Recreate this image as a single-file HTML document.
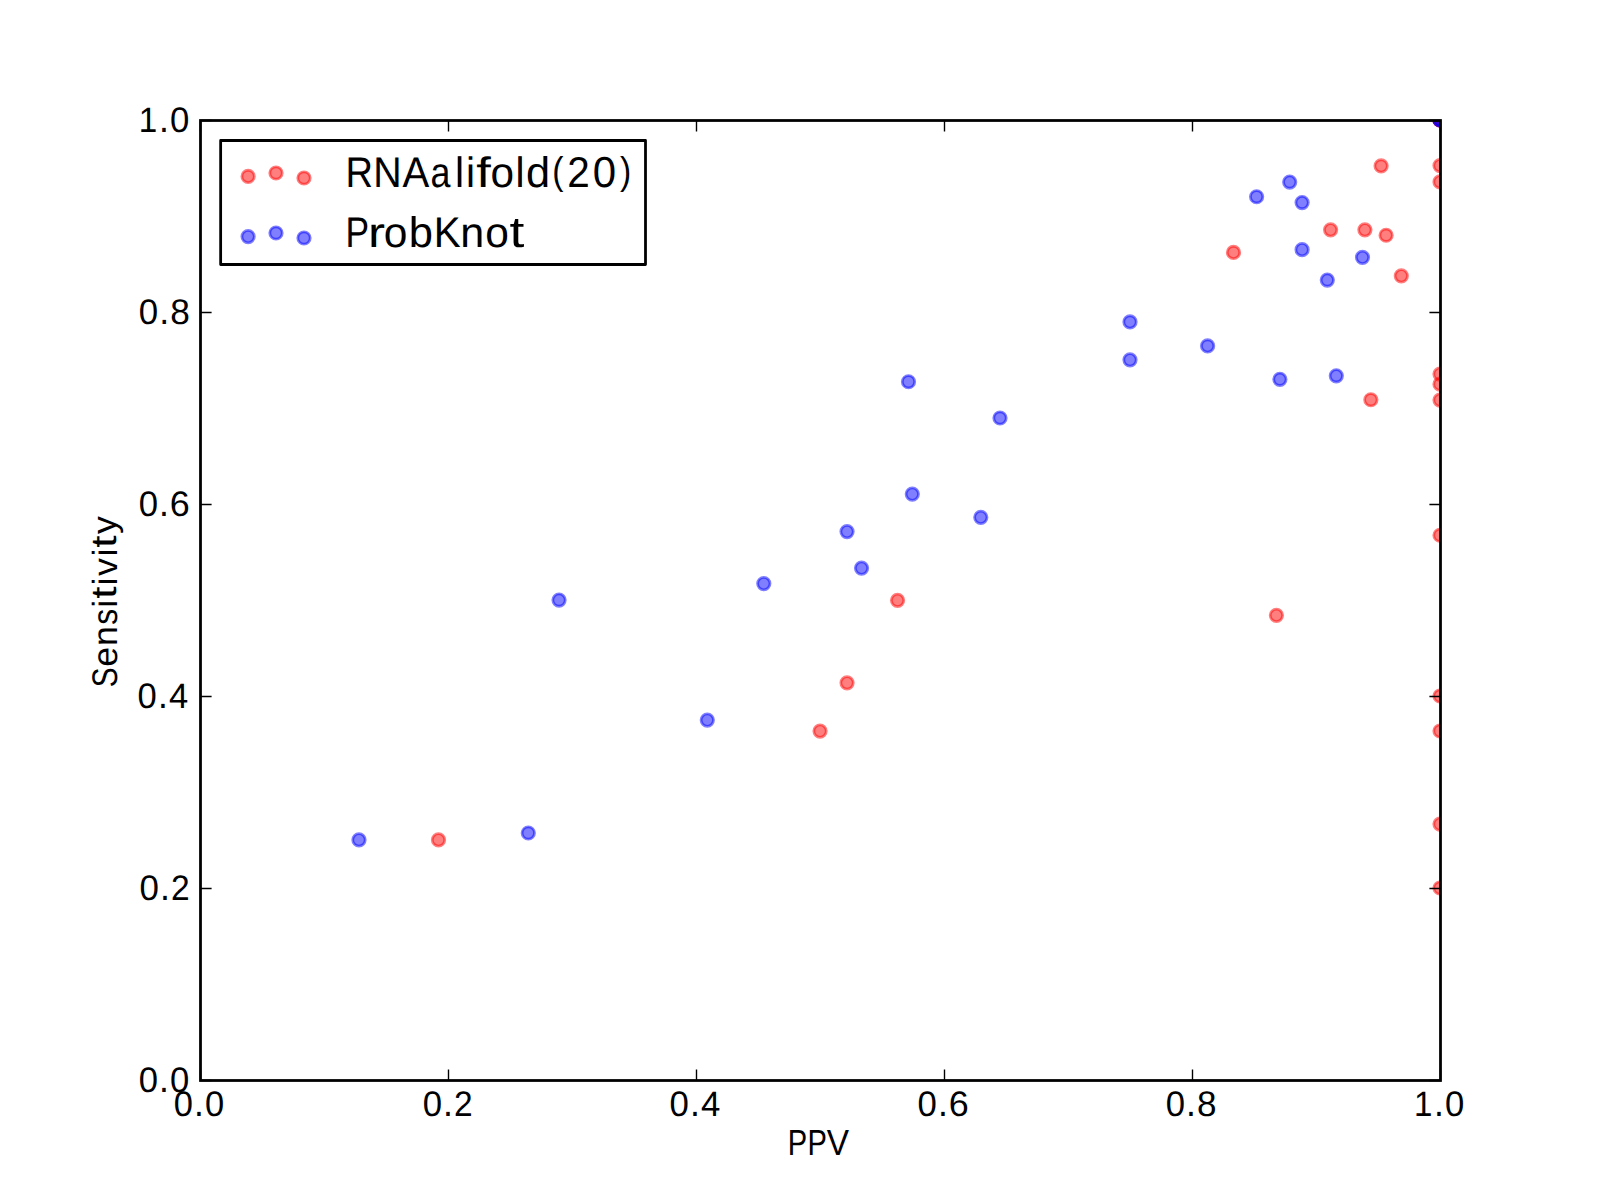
<!DOCTYPE html>
<html><head><meta charset="utf-8"><title>PPV vs Sensitivity</title><style>
html,body{margin:0;padding:0;background:#fff;width:1600px;height:1200px;overflow:hidden}
svg{display:block}
text{font-family:"Liberation Sans",sans-serif;font-size:50px;fill:#000;text-rendering:geometricPrecision}
</style></head><body>
<svg width="1600" height="1200" viewBox="0 0 1600 1200">
<defs><clipPath id="ax"><rect x="200.5" y="120.5" width="1240.0" height="960.0"/></clipPath></defs>
<rect x="0" y="0" width="1600" height="1200" fill="#fff"/>
<g clip-path="url(#ax)" fill="#ff0000" fill-opacity="0.5" stroke="#ff0000" stroke-opacity="0.5" stroke-width="2.78"><circle cx="438.5" cy="839.9" r="6.21"/><circle cx="820.05" cy="731.1" r="6.21"/><circle cx="847.05" cy="682.85" r="6.21"/><circle cx="897.55" cy="600.35" r="6.21"/><circle cx="1276.4" cy="615.35" r="6.21"/><circle cx="1233.5" cy="252.45" r="6.21"/><circle cx="1330.6" cy="229.85" r="6.21"/><circle cx="1364.9" cy="229.85" r="6.21"/><circle cx="1386.1" cy="235.25" r="6.21"/><circle cx="1401.3" cy="275.85" r="6.21"/><circle cx="1381.1" cy="165.95" r="6.21"/><circle cx="1370.85" cy="399.75" r="6.21"/><circle cx="1440" cy="165.6" r="6.21"/><circle cx="1440" cy="181.9" r="6.21"/><circle cx="1440" cy="374.1" r="6.21"/><circle cx="1440" cy="384.15" r="6.21"/><circle cx="1440" cy="400.1" r="6.21"/><circle cx="1440" cy="535.25" r="6.21"/><circle cx="1440" cy="696" r="6.21"/><circle cx="1440" cy="731" r="6.21"/><circle cx="1440" cy="824.1" r="6.21"/><circle cx="1440" cy="888" r="6.21"/><circle cx="1440" cy="120" r="6.21"/><circle cx="1440" cy="120" r="6.21"/><circle cx="1440" cy="120" r="6.21"/></g>
<g clip-path="url(#ax)" fill="#0000ff" fill-opacity="0.5" stroke="#0000ff" stroke-opacity="0.5" stroke-width="2.78"><circle cx="358.98" cy="839.9" r="6.21"/><circle cx="528.3" cy="833" r="6.21"/><circle cx="559.05" cy="600.05" r="6.21"/><circle cx="707.3" cy="720.1" r="6.21"/><circle cx="763.8" cy="583.6" r="6.21"/><circle cx="847.05" cy="531.6" r="6.21"/><circle cx="861.55" cy="568.1" r="6.21"/><circle cx="908.5" cy="381.75" r="6.21"/><circle cx="912.3" cy="494.1" r="6.21"/><circle cx="980.8" cy="517.35" r="6.21"/><circle cx="1000" cy="418" r="6.21"/><circle cx="1130.0" cy="321.95" r="6.21"/><circle cx="1130.0" cy="359.85" r="6.21"/><circle cx="1207.6" cy="345.95" r="6.21"/><circle cx="1256.6" cy="196.75" r="6.21"/><circle cx="1289.7" cy="182.05" r="6.21"/><circle cx="1302.1" cy="202.55" r="6.21"/><circle cx="1302.1" cy="249.65" r="6.21"/><circle cx="1362.5" cy="257.35" r="6.21"/><circle cx="1327.3" cy="280.05" r="6.21"/><circle cx="1279.9" cy="379.3" r="6.21"/><circle cx="1336.3" cy="375.8" r="6.21"/><circle cx="1440" cy="120" r="6.21"/><circle cx="1440" cy="120" r="6.21"/></g>
<path d="M200.5 1080.5V1069.4M200.5 120.5V131.6M200.5 1080.5H211.6M1440.5 1080.5H1429.4M448.5 1080.5V1069.4M448.5 120.5V131.6M200.5 888.5H211.6M1440.5 888.5H1429.4M696.5 1080.5V1069.4M696.5 120.5V131.6M200.5 696.5H211.6M1440.5 696.5H1429.4M944.5 1080.5V1069.4M944.5 120.5V131.6M200.5 504.5H211.6M1440.5 504.5H1429.4M1192.5 1080.5V1069.4M1192.5 120.5V131.6M200.5 312.5H211.6M1440.5 312.5H1429.4M1440.5 1080.5V1069.4M1440.5 120.5V131.6M200.5 120.5H211.6M1440.5 120.5H1429.4" stroke="#000" stroke-width="1.39" fill="none"/>
<rect x="200.5" y="120.5" width="1240.0" height="960.0" fill="none" stroke="#000" stroke-width="2.78"/>
<text transform="matrix(0.6897 0 0 0.7124 173.85 1115.72)">0</text><text transform="matrix(0.7080 0 0 0.7734 194.12 1115.60)">.</text><text transform="matrix(0.6897 0 0 0.7124 205.07 1115.72)">0</text>
<text transform="matrix(0.6926 0 0 0.7124 138.71 1091.92)">0</text><text transform="matrix(0.7110 0 0 0.7734 159.06 1091.80)">.</text><text transform="matrix(0.6926 0 0 0.7124 170.05 1091.92)">0</text>
<text transform="matrix(0.6957 0 0 0.7124 422.64 1115.72)">0</text><text transform="matrix(0.7141 0 0 0.7734 443.09 1115.60)">.</text><text transform="matrix(0.6706 0 0 0.7088 454.04 1115.60)">2</text>
<text transform="matrix(0.6972 0 0 0.7124 139.54 899.92)">0</text><text transform="matrix(0.7156 0 0 0.7734 160.03 899.80)">.</text><text transform="matrix(0.6720 0 0 0.7088 171.00 899.80)">2</text>
<text transform="matrix(0.6950 0 0 0.7124 669.54 1115.72)">0</text><text transform="matrix(0.7134 0 0 0.7734 689.97 1115.60)">.</text><text transform="matrix(0.6951 0 0 0.7066 700.99 1115.60)">4</text>
<text transform="matrix(0.6911 0 0 0.7124 137.62 707.92)">0</text><text transform="matrix(0.7094 0 0 0.7734 157.93 707.80)">.</text><text transform="matrix(0.6912 0 0 0.7066 168.89 707.80)">4</text>
<text transform="matrix(0.6943 0 0 0.7124 917.61 1115.72)">0</text><text transform="matrix(0.7127 0 0 0.7734 938.02 1115.60)">.</text><text transform="matrix(0.7186 0 0 0.7124 948.70 1115.72)">6</text>
<text transform="matrix(0.6945 0 0 0.7124 138.70 515.92)">0</text><text transform="matrix(0.7129 0 0 0.7734 159.11 515.80)">.</text><text transform="matrix(0.7188 0 0 0.7124 169.79 515.92)">6</text>
<text transform="matrix(0.6936 0 0 0.7124 1165.65 1115.72)">0</text><text transform="matrix(0.7119 0 0 0.7734 1186.03 1115.60)">.</text><text transform="matrix(0.7011 0 0 0.7124 1196.93 1115.72)">8</text>
<text transform="matrix(0.6970 0 0 0.7124 138.70 323.92)">0</text><text transform="matrix(0.7155 0 0 0.7734 159.18 323.80)">.</text><text transform="matrix(0.7046 0 0 0.7124 170.14 323.92)">8</text>
<text transform="matrix(0.6621 0 0 0.7066 1413.88 1115.60)">1</text><text transform="matrix(0.7116 0 0 0.7734 1433.98 1115.60)">.</text><text transform="matrix(0.6933 0 0 0.7124 1444.98 1115.72)">0</text>
<text transform="matrix(0.6636 0 0 0.7066 138.87 131.80)">1</text><text transform="matrix(0.7132 0 0 0.7734 159.01 131.80)">.</text><text transform="matrix(0.6948 0 0 0.7124 170.04 131.92)">0</text>
<text transform="matrix(0.5821 0 0 0.7248 787.71 1154.75)">P</text><text transform="matrix(0.5821 0 0 0.7248 807.56 1154.75)">P</text><text transform="matrix(0.6680 0 0 0.7248 826.67 1154.75)">V</text>
<g transform="translate(116.6 686) rotate(-90)"><text transform="matrix(0.5922 0 0 0.7124 -1.34 0.12)">S</text><text transform="matrix(0.7176 0 0 0.6989 19.20 0.13)">e</text><text transform="matrix(0.7163 0 0 0.6941 39.97 0.00)">n</text><text transform="matrix(0.6368 0 0 0.7008 61.30 0.13)">s</text><text transform="matrix(0.6791 0 0 0.6992 78.55 0.00)">i</text><text transform="matrix(0.8879 0 0 0.7156 87.14 -0.28)">t</text><text transform="matrix(0.6791 0 0 0.6992 100.80 0.00)">i</text><text transform="matrix(0.7170 0 0 0.6902 110.04 0.00)">v</text><text transform="matrix(0.6791 0 0 0.6992 129.69 0.00)">i</text><text transform="matrix(0.8879 0 0 0.7156 138.28 -0.28)">t</text><text transform="matrix(0.7134 0 0 0.6841 151.98 -0.16)">y</text></g>
<rect x="220.65" y="140.5" width="424.85" height="124" fill="#fff" stroke="#000" stroke-width="2.78" stroke-linejoin="round"/>
<g fill="#ff0000" fill-opacity="0.5" stroke="#ff0000" stroke-opacity="0.5" stroke-width="2.78"><circle cx="248.1" cy="176.45" r="6.21"/><circle cx="276" cy="173" r="6.21"/><circle cx="304" cy="178" r="6.21"/></g>
<g fill="#0000ff" fill-opacity="0.5" stroke="#0000ff" stroke-opacity="0.5" stroke-width="2.78"><circle cx="248.1" cy="236.6" r="6.21"/><circle cx="276" cy="233" r="6.21"/><circle cx="304" cy="238" r="6.21"/></g>
<text transform="matrix(0.7621 0 0 0.8594 345.62 186.90)">R</text><text transform="matrix(0.7871 0 0 0.8594 373.20 186.90)">N</text><text transform="matrix(0.8027 0 0 0.8594 402.56 186.90)">A</text><text transform="matrix(0.7165 0 0 0.8500 430.45 187.06)">a</text><text transform="matrix(0.8145 0 0 0.8504 455.00 186.90)">l</text><text transform="matrix(0.8145 0 0 0.8504 466.09 186.90)">i</text><text transform="matrix(1.0463 0 0 0.8515 476.31 186.90)">f</text><text transform="matrix(0.8471 0 0 0.8500 490.58 187.06)">o</text><text transform="matrix(0.8145 0 0 0.8504 515.54 186.90)">l</text><text transform="matrix(0.8660 0 0 0.8547 525.98 187.06)">d</text><text transform="matrix(0.6736 0 0 0.7753 552.23 184.22)">(</text><text transform="matrix(0.8096 0 0 0.8621 567.32 186.90)">2</text><text transform="matrix(0.8400 0 0 0.8664 592.77 187.05)">0</text><text transform="matrix(0.6736 0 0 0.7753 620.12 184.22)">)</text>
<text transform="matrix(0.7074 0 0 0.8594 345.40 246.90)">P</text><text transform="matrix(1.0248 0 0 0.8441 368.02 246.90)">r</text><text transform="matrix(0.8503 0 0 0.8500 383.77 247.06)">o</text><text transform="matrix(0.8702 0 0 0.8547 408.65 247.06)">b</text><text transform="matrix(0.8067 0 0 0.8594 433.82 246.90)">K</text><text transform="matrix(0.8624 0 0 0.8441 460.20 246.90)">n</text><text transform="matrix(0.8503 0 0 0.8500 485.20 247.06)">o</text><text transform="matrix(1.0690 0 0 0.8703 509.51 246.56)">t</text>
</svg>
</body></html>
